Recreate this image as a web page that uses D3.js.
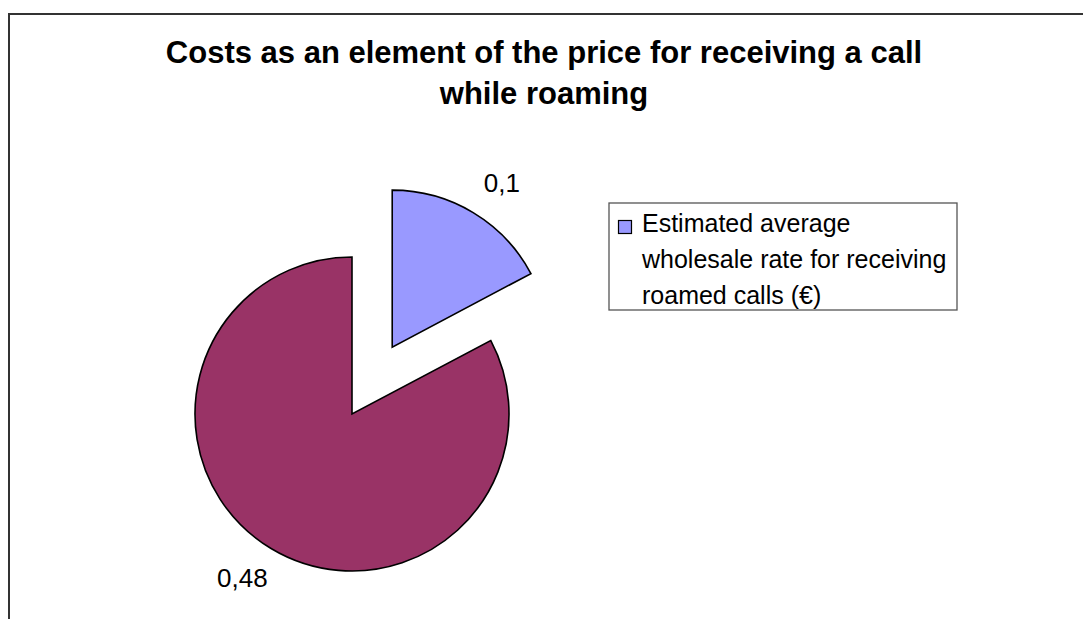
<!DOCTYPE html>
<html>
<head>
<meta charset="utf-8">
<script src="https://cdn.jsdelivr.net/npm/d3@7"></script>
<style>
  html, body { margin: 0; padding: 0; background: #fff; }
  svg { display: block; font-family: "Liberation Sans", Arial, sans-serif; }
</style>
</head>
<body>
<div class="chart"></div>
<script>
// chart data
const titleLines = ['Costs as an element of the price for receiving a call', 'while roaming'];
const sliceNames = ['Estimated average wholesale rate for receiving roamed calls (€)', 'Other'];
const sliceValues = [0.1, 0.48];
const sliceLabels = ['0,1', '0,48'];
const legendLines = ['Estimated average', 'wholesale rate for receiving', 'roamed calls (€)'];
const sliceColors = ['#9999ff', '#993366'];

(function() {
  'use strict';

  const width = 1083,
        height = 619,
        cx = 352, cy = 414,
        radius = 157,
        explode = 78;

  const svg = d3.select('.chart')
    .append('svg')
    .attr('width', width)
    .attr('height', height);

  // outer frame (runs off the right and bottom edge)
  svg.append('rect')
    .attr('x', 9).attr('y', 14)
    .attr('width', width + 20).attr('height', height + 20)
    .attr('fill', 'none')
    .attr('stroke', '#333')
    .attr('stroke-width', 2);

  // title
  svg.append('text')
    .attr('text-anchor', 'middle')
    .attr('font-weight', 'bold')
    .attr('font-size', 31)
    .selectAll('tspan')
    .data(titleLines)
    .enter()
    .append('tspan')
      .attr('x', 544)
      .attr('y', (d, i) => 63 + i * 41)
      .text(d => d);

  const data = sliceValues.map((v, i) => ({ value: v, label: sliceLabels[i], color: sliceColors[i], name: sliceNames[i] }));

  const pie = d3.pie()
    .sort(null)
    .value(d => d.value);

  const arc = d3.arc()
    .innerRadius(0)
    .outerRadius(radius);

  const labelArc = d3.arc()
    .innerRadius(197)
    .outerRadius(197);

  const arcs = pie(data);

  const g = svg.append('g')
    .attr('transform', `translate(${cx},${cy})`);

  const slice = g.selectAll('g.slice')
    .data(arcs)
    .enter()
    .append('g')
      .attr('class', 'slice')
      .attr('transform', (d, i) => {
        if (i !== 0) return null;
        const mid = (d.startAngle + d.endAngle) / 2;
        return `translate(${Math.sin(mid) * explode},${-Math.cos(mid) * explode})`;
      });

  slice.append('path')
    .attr('d', arc)
    .attr('fill', d => d.data.color)
    .attr('stroke', '#000')
    .attr('stroke-width', 1.6)
    .attr('stroke-linejoin', 'miter');

  // labels sit a little wider than tall around the slice
  slice.append('text')
    .attr('transform', d => {
      const c = labelArc.centroid(d);
      return `translate(${c[0] * 1.08},${c[1] * 0.97})`;
    })
    .attr('text-anchor', 'middle')
    .attr('dominant-baseline', 'central')
    .attr('font-size', 26)
    .attr('fill', '#000')
    .text(d => d.data.label);

  // legend
  const legend = svg.append('g');

  legend.append('rect')
    .attr('x', 609).attr('y', 203)
    .attr('width', 348).attr('height', 107)
    .attr('fill', '#fff')
    .attr('stroke', '#555')
    .attr('stroke-width', 1.3);

  legend.append('rect')
    .attr('x', 618.5).attr('y', 220.5)
    .attr('width', 13).attr('height', 13)
    .attr('fill', sliceColors[0])
    .attr('stroke', '#000')
    .attr('stroke-width', 1.2);

  legend.append('text')
    .attr('font-size', 25)
    .selectAll('tspan')
    .data(legendLines)
    .enter()
    .append('tspan')
      .attr('x', 642)
      .attr('y', (d, i) => 232 + i * 36)
      .text(d => d);
})();
</script>
</body>
</html>
